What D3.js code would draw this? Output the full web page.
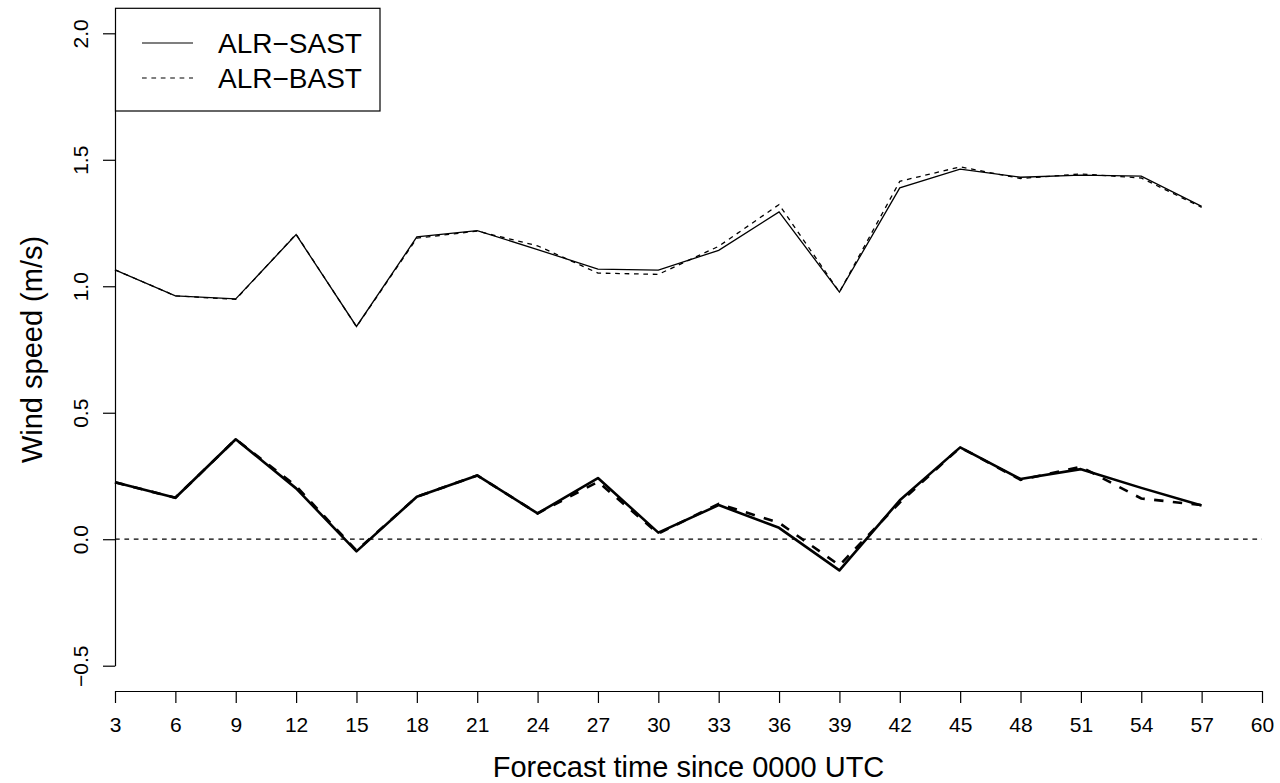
<!DOCTYPE html>
<html>
<head>
<meta charset="utf-8">
<script src="https://cdn.jsdelivr.net/npm/d3@7"></script>
<style>
  html, body { margin: 0; padding: 0; background: #fff; }
  svg { display: block; font-family: "Liberation Sans", Arial, Helvetica, sans-serif; }
</style>
</head>
<body>
<svg id="chart" width="1280" height="783"></svg>
<script>
// ---- data ----
const hours = [3, 6, 9, 12, 15, 18, 21, 24, 27, 30, 33, 36, 39, 42, 45, 48, 51, 54, 57];
const sastSpread = [1.065, 0.962, 0.950, 1.204, 0.841, 1.195, 1.220, 1.145, 1.068, 1.064, 1.142, 1.294, 0.977, 1.389, 1.463, 1.431, 1.439, 1.435, 1.316];
const bastSpread = [1.065, 0.962, 0.948, 1.206, 0.840, 1.190, 1.218, 1.160, 1.052, 1.047, 1.158, 1.323, 0.977, 1.415, 1.472, 1.426, 1.444, 1.428, 1.312];
const sastBias = [0.225, 0.164, 0.395, 0.201, -0.048, 0.168, 0.252, 0.102, 0.242, 0.026, 0.135, 0.045, -0.123, 0.154, 0.363, 0.238, 0.277, 0.203, 0.133];
const bastBias = [0.225, 0.164, 0.395, 0.210, -0.045, 0.168, 0.252, 0.102, 0.227, 0.022, 0.140, 0.065, -0.103, 0.145, 0.363, 0.235, 0.286, 0.161, 0.135];
const xTicks = [3, 6, 9, 12, 15, 18, 21, 24, 27, 30, 33, 36, 39, 42, 45, 48, 51, 54, 57, 60];
const yTicks = [-0.5, 0.0, 0.5, 1.0, 1.5, 2.0];
const legendLabels = ["ALR\u2212SAST", "ALR\u2212BAST"];
const xLabel = "Forecast time since 0000 UTC";
const yLabel = "Wind speed (m/s)";

// ---- layout ----
const svg = d3.select("#chart");
const plot = { left: 115, right: 1262, top: 33.3, bottom: 665.7 };
const x = d3.scaleLinear().domain([3, 60]).range([plot.left, plot.right]);
const y = d3.scaleLinear().domain([-0.5, 2.0]).range([plot.bottom, plot.top]);

// x axis
const xAxis = d3.axisBottom(x).tickValues(xTicks).tickFormat(d3.format("d")).tickSize(12).tickSizeOuter(0).tickPadding(14);
const gx = svg.append("g").attr("transform", "translate(0,691)").call(xAxis);
gx.select(".domain").attr("stroke", "#000").attr("stroke-width", 1.2);
gx.selectAll(".tick line").attr("stroke", "#000").attr("stroke-width", 1.2);
gx.selectAll(".tick text").attr("font-size", 21).attr("fill", "#000").attr("font-family", "Liberation Sans, Arial, sans-serif");

// y axis
const yAxis = d3.axisLeft(y).tickValues(yTicks).tickFormat(d3.format(".1f")).tickSize(12).tickSizeOuter(0);
const gy = svg.append("g").attr("transform", `translate(${plot.left},0)`).call(yAxis);
gy.select(".domain").attr("stroke", "#000").attr("stroke-width", 1.2);
gy.selectAll(".tick line").attr("stroke", "#000").attr("stroke-width", 1.2);
gy.selectAll(".tick text")
  .attr("font-size", 21).attr("fill", "#000").attr("font-family", "Liberation Sans, Arial, sans-serif")
  .attr("text-anchor", "middle").attr("x", null)
  .attr("transform", "translate(-35,0) rotate(-90)")
  .attr("dy", "0.36em");
gy.selectAll(".tick text").text(d => d < 0 ? "\u2212" + Math.abs(d).toFixed(1) : d.toFixed(1));

// axis titles
svg.append("text").attr("x", (plot.left + plot.right) / 2).attr("y", 777)
  .attr("text-anchor", "middle").attr("font-size", 29).text(xLabel);
svg.append("text").attr("transform", `translate(42,${(plot.top + plot.bottom) / 2}) rotate(-90)`)
  .attr("text-anchor", "middle").attr("font-size", 29).text(yLabel);

// zero reference line
svg.append("line")
  .attr("x1", x(3)).attr("x2", x(60)).attr("y1", y(0)).attr("y2", y(0))
  .attr("stroke", "#000").attr("stroke-width", 1.2).attr("stroke-dasharray", "4.7,4.7");

// series
const line = vals => d3.line().x((d, i) => x(hours[i])).y(d => y(d))(vals);
svg.append("path").attr("d", line(sastSpread)).attr("fill", "none").attr("stroke", "#000").attr("stroke-width", 1.3);
svg.append("path").attr("d", line(bastSpread)).attr("fill", "none").attr("stroke", "#000").attr("stroke-width", 1.3).attr("stroke-dasharray", "4.7,4.7");
svg.append("path").attr("d", line(sastBias)).attr("fill", "none").attr("stroke", "#000").attr("stroke-width", 2.6).attr("stroke-linejoin", "round");
svg.append("path").attr("d", line(bastBias)).attr("fill", "none").attr("stroke", "#000").attr("stroke-width", 2.6).attr("stroke-dasharray", "9.4,9.4");

// legend
const lg = svg.append("g");
lg.append("rect").attr("x", 115.5).attr("y", 8.3).attr("width", 264.5).attr("height", 102.7)
  .attr("fill", "#fff").attr("stroke", "#000").attr("stroke-width", 1.2);
legendLabels.forEach((lab, i) => {
  const ly = 43 + i * 35;
  lg.append("line").attr("x1", 142).attr("x2", 193).attr("y1", ly).attr("y2", ly)
    .attr("stroke", "#000").attr("stroke-width", 1.2)
    .attr("stroke-dasharray", i === 1 ? "4.7,4.7" : null);
  lg.append("text").attr("x", 218).attr("y", ly).attr("dy", "0.36em")
    .attr("font-size", 28).text(lab);
});
</script>
</body>
</html>
